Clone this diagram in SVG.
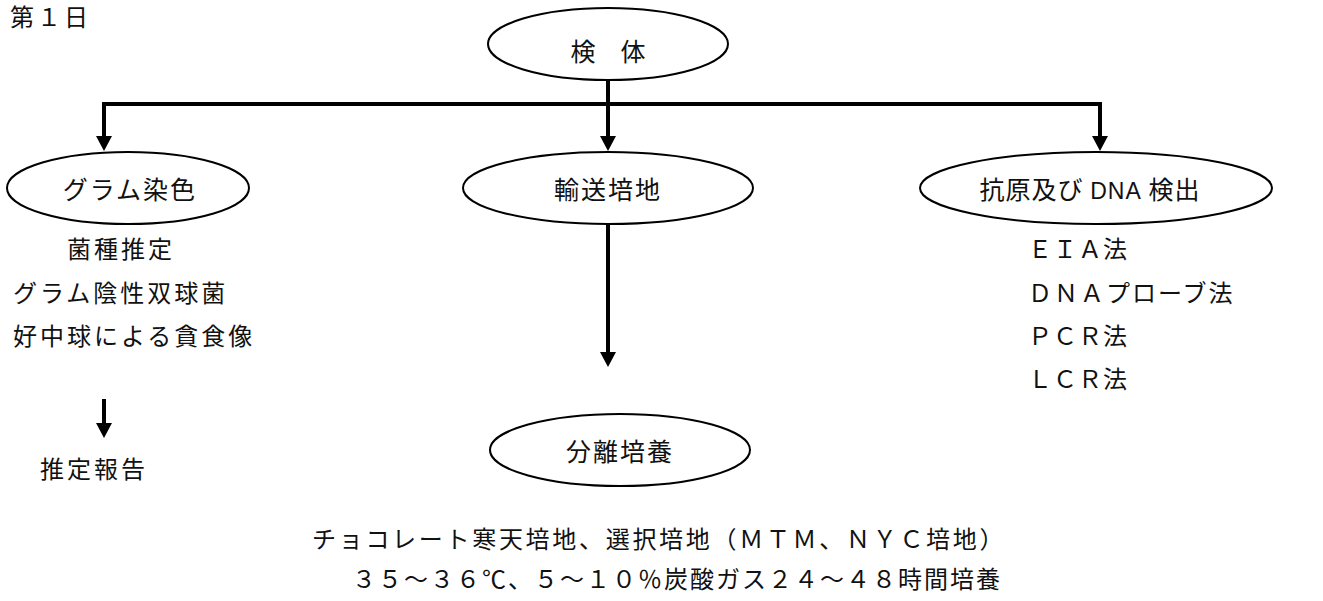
<svg xmlns="http://www.w3.org/2000/svg" width="1323" height="601" viewBox="0 0 1323 601">
<style>
text{font-family:"Noto Sans CJK JP","Noto Sans",sans-serif;fill:#111;font-size:24px}
.n ellipse{fill:#fff;stroke:#000;stroke-width:2}
.n text{text-anchor:middle;font-size:25px}
.c line{stroke:#000;stroke-width:4}
</style>
<rect width="1323" height="601" fill="#fff"/>
<text x="10" y="26" font-size="20" letter-spacing="3">第１日</text>
<g class="c">
<line x1="608" y1="80" x2="608" y2="104"/>
<line x1="102" y1="104" x2="1102" y2="104"/>
<line x1="104" y1="102" x2="104" y2="137"/>
<polygon points="96,136 112,136 104,151"/>
<line x1="608" y1="104" x2="608" y2="137"/>
<polygon points="600,136 616,136 608,151"/>
<line x1="1100" y1="102" x2="1100" y2="137"/>
<polygon points="1092,136 1108,136 1100,151"/>
<line x1="608" y1="223" x2="608" y2="353"/>
<polygon points="600,352 616,352 608,367"/>
<line x1="104" y1="399" x2="104" y2="424"/>
<polygon points="96,423 112,423 104,438"/>
</g>
<g id="kentai" class="n"><ellipse cx="608" cy="44" rx="120" ry="36"/><text x="608" y="61">検　体</text></g>
<g id="gram" class="n"><ellipse cx="128" cy="188" rx="121" ry="36"/><text x="130" y="199" letter-spacing="2">グラム染色</text></g>
<g id="yuso" class="n"><ellipse cx="608" cy="188" rx="145" ry="36"/><text x="608" y="199" letter-spacing="2">輸送培地</text></g>
<g id="kogen" class="n"><ellipse cx="1096" cy="188" rx="176" ry="36"/><text x="1090" y="199" letter-spacing="1">抗原及び <tspan font-family="Liberation Sans Narrow,Liberation Sans,sans-serif" font-size="23">DNA</tspan> 検出</text></g>
<g id="bunri" class="n"><ellipse cx="620" cy="450" rx="130" ry="36"/><text x="620" y="461" letter-spacing="2">分離培養</text></g>
<g id="left-text">
<text x="67" y="258" letter-spacing="3">菌種推定</text>
<text x="13" y="302" letter-spacing="3">グラム陰性双球菌</text>
<text x="13" y="345" letter-spacing="3">好中球による貪食像</text>
<text x="40" y="478" letter-spacing="3">推定報告</text>
</g>
<g id="right-text">
<text x="1028" y="258" letter-spacing="1">ＥＩＡ法</text>
<text x="1028" y="302" letter-spacing="2">ＤＮＡプローブ法</text>
<text x="1028" y="345" letter-spacing="1">ＰＣＲ法</text>
<text x="1028" y="388" letter-spacing="1">ＬＣＲ法</text>
</g>
<g id="bottom-text">
<text x="312" y="548" letter-spacing="2.7">チョコレート寒天培地、選択培地（ＭＴＭ、ＮＹＣ培地）</text>
<text x="352" y="588" letter-spacing="2">３５～３６℃、５～１０％炭酸ガス２４～４８時間培養</text>
</g>
</svg>
